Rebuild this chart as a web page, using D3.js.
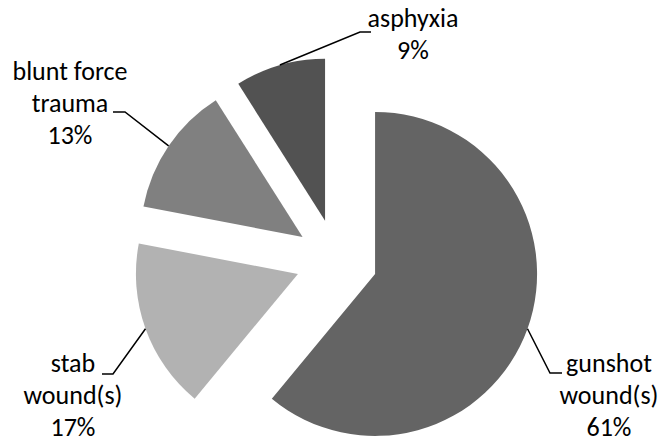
<!DOCTYPE html>
<html><head><meta charset="utf-8">
<script src="https://cdn.jsdelivr.net/npm/d3@7"></script>
<style>body{margin:0;background:#fff}svg{display:block}</style>
</head><body>
<svg id="chart" width="662" height="443"></svg>
<script>
// ---- data ----
const categories = ["gunshot wound(s)", "stab wound(s)", "blunt force trauma", "asphyxia"];
const values = [61, 17, 13, 9];
const labelLines = [["gunshot", "wound(s)", "61%"], ["stab", "wound(s)", "17%"], ["blunt force", "trauma", "13%"], ["asphyxia", "9%"]];
const colors = ["#646464", "#b2b2b2", "#808080", "#525252"];

// ---- layout ----
const W = 662, H = 443;
const cx = 336.5, cy = 260, R = 162, explode = 41;
const fontSize = 26, lineH = 32;
// label block: center x, first baseline, elbow point, horizontal end
const labelLayout = [
  {x: 609, y: 372, elbow: [550, 373], end: [562, 373]},
  {x: 73, y: 372, elbow: [113, 374], end: [102, 374]},
  {x: 70, y: 80, elbow: [125, 112], end: [113, 112]},
  {x: 413, y: 27, elbow: [360, 32], end: [371, 32]}
];

const svg = d3.select("#chart");
const pie = d3.pie().sort(null).startAngle(0).endAngle(2 * Math.PI);
const arcs = pie(values);
const arc = d3.arc().innerRadius(0).outerRadius(R);

const g = svg.append("g").attr("transform", `translate(${cx},${cy})`);

arcs.forEach((a, i) => {
  const mid = (a.startAngle + a.endAngle) / 2;
  const ox = explode * Math.sin(mid), oy = -explode * Math.cos(mid);
  g.append("path")
    .attr("d", arc(a))
    .attr("transform", `translate(${ox},${oy})`)
    .attr("fill", colors[i]);

  // leader line: from outer arc at bisector
  const ax = cx + ox + R * Math.sin(mid), ay = cy + oy - R * Math.cos(mid);
  const L = labelLayout[i];
  svg.append("polyline")
    .attr("points", [[ax, ay], L.elbow, L.end].map(p => p.join(",")).join(" "))
    .attr("fill", "none").attr("stroke", "#000").attr("stroke-width", 1.5);

  const t = svg.append("text")
    .attr("x", L.x).attr("y", L.y)
    .attr("text-anchor", "middle")
    .attr("font-family", "Carlito, Lato, sans-serif")
    .attr("font-size", fontSize)
    .attr("fill", "#000");
  labelLines[i].forEach((s, k) => {
    t.append("tspan").attr("x", L.x).attr("y", L.y + k * lineH).text(s);
  });
});
</script>
</body></html>
